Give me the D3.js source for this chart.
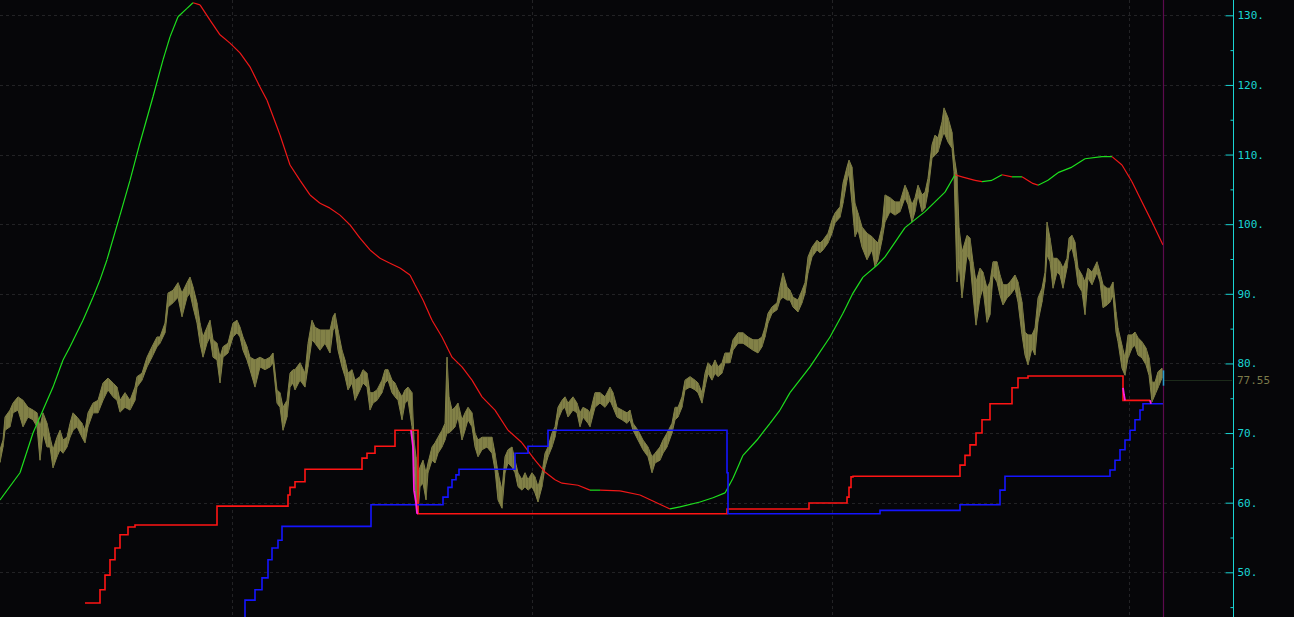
<!DOCTYPE html>
<html><head><meta charset="utf-8">
<script src="https://cdn.jsdelivr.net/npm/d3@7"></script>
<style>html,body{margin:0;padding:0;background:#060609;overflow:hidden}</style>
</head><body><svg id="c" width="1294" height="617"></svg>
<script>
// ---------- data ----------
const priceX = [0,3,5,10,13,18,23,28,33,37,40,43,47,50,53,57,60,63,67,70,73,77,82,85,88,93,98,103,108,113,117,120,125,130,135,137,142,147,152,157,160,165,168,173,178,182,187,190,193,197,200,203,207,210,213,217,220,223,228,233,237,240,243,247,250,255,260,265,270,273,277,280,283,287,290,293,
295,300,305,308,312,315,320,325,330,333,335,338,342,345,348,352,355,360,363,367,370,373,377,382,385,388,392,395,398,402,405,408,412,414,416,418,420,423,426,428,432,435,438,442,445,447,449,452,455,458,462,465,468,472,475,478,482,487,492,495,498,502,505,508,512,515,518,522,525,528,532,535,538,542,545,548,552,555,558,562,565,568,573,577,580,583,588,
590,595,600,605,610,613,617,622,627,630,633,638,643,648,652,655,660,663,667,672,675,678,682,685,690,695,698,702,705,708,712,715,718,722,725,730,733,738,743,748,753,758,762,765,768,772,777,780,783,787,790,793,798,802,805,808,812,817,820,823,828,832,835,840,843,847,849,852,855,858,862,867,872,875,878,882,
885,890,895,900,905,908,912,915,918,922,925,928,932,935,938,942,944,948,952,954,957,959,962,967,970,973,976,980,983,987,990,993,997,1000,1003,1007,1010,1015,1018,1022,1025,1028,1032,1035,1038,1042,1045,1047,1050,1053,1057,1060,1063,1067,1069,1072,1075,1078,1082,1085,1088,1092,1097,1100,1103,1107,1110,1113,1116,1118,1122,1125,1128,1132,1135,1138,1142,1146,1149,1152,1155,1158,1162];
const priceHigh = [67.6,69.0,72.3,73.3,74.3,75.2,74.7,73.7,73.3,72.9,70.9,72.9,71.4,69.4,67.6,69.4,70.4,69.0,69.4,71.4,72.9,72.3,71.4,70.4,72.9,74.3,74.7,77.2,77.9,77.2,76.6,74.7,75.8,74.7,76.6,78.1,78.6,80.9,82.4,83.8,83.8,85.8,90.1,90.5,91.6,90.1,91.6,92.4,91.0,88.7,85.8,83.8,85.2,86.2,83.4,82.9,80.9,82.4,82.9,85.8,86.2,85.2,83.8,82.4,80.9,80.5,80.9,80.5,80.9,81.5,76.2,75.8,73.7,74.7,78.6,79.1,
79.1,80.1,78.6,82.9,86.2,85.2,84.8,84.8,84.8,86.7,87.2,84.8,81.9,80.5,78.6,79.1,77.6,78.1,79.1,78.6,75.8,75.8,76.2,77.6,79.1,79.1,77.6,77.2,76.2,75.2,76.2,76.6,75.8,69.0,66.6,64.3,65.1,66.1,64.3,65.7,68.0,68.6,69.4,70.4,71.4,80.9,75.2,73.3,73.7,74.3,71.9,72.9,73.7,72.9,70.0,69.0,69.4,69.4,69.4,67.1,64.3,61.8,66.6,67.6,68.0,66.1,64.3,63.3,64.3,63.3,64.3,63.7,62.3,64.3,67.1,68.0,70.0,70.9,73.7,74.7,75.2,74.3,75.2,74.3,72.9,73.7,73.3,
72.9,75.8,75.8,75.2,76.6,75.8,73.7,73.3,72.9,73.3,71.4,70.4,69.0,68.0,66.6,67.1,68.0,69.0,70.0,71.4,73.7,73.7,75.2,77.6,78.1,77.6,77.2,75.8,78.6,80.1,79.5,80.5,79.5,80.1,81.5,81.5,83.4,84.4,84.4,83.8,83.4,83.4,83.8,85.2,87.2,88.1,88.7,91.0,93.0,91.0,90.5,89.5,89.1,90.5,91.6,95.3,96.7,97.7,97.3,97.7,98.7,100.6,101.6,102.5,105.9,108.2,109.2,108.2,103.0,101.6,99.6,98.7,98.2,97.7,97.3,99.6,
104.2,103.8,103.2,103.2,105.6,104.6,102.8,103.8,105.6,104.2,104.6,106.6,111.4,112.8,112.4,114.7,116.7,115.3,113.2,109.9,107.1,99.5,96.0,98.4,98.0,94.6,91.7,93.7,93.1,90.8,91.7,94.6,94.6,92.7,91.3,91.3,91.7,92.7,91.7,88.8,84.5,84.1,84.1,85.1,89.4,90.8,93.1,100.3,98.0,95.1,95.1,94.6,93.7,95.1,98.0,98.4,97.4,93.7,92.7,91.7,93.7,93.1,94.6,93.1,91.3,90.8,90.8,91.7,87.4,85.1,82.6,80.8,84.1,84.1,84.5,83.7,83.1,82.2,80.8,77.3,77.3,78.8,79.3];
const priceLow = [65.8,68.0,70.4,70.9,72.9,73.3,70.9,72.3,71.9,70.9,66.1,70.0,68.0,68.0,65.0,66.6,67.6,67.1,68.0,69.4,70.4,70.9,69.4,68.6,70.9,72.9,72.9,74.7,76.2,75.2,74.7,73.0,73.7,73.3,74.7,76.6,77.6,79.5,80.9,82.4,82.9,84.4,88.1,88.7,89.5,86.7,89.5,90.1,88.1,85.8,82.9,80.9,82.9,83.8,80.9,80.5,77.2,80.9,81.5,83.8,84.4,83.8,81.9,80.5,79.1,76.6,79.5,79.1,79.5,80.1,74.3,73.7,70.4,72.3,76.6,77.2,
76.2,77.6,76.6,79.5,83.4,82.9,81.9,82.9,81.5,84.8,85.2,81.9,79.5,78.1,76.2,77.2,74.7,76.2,77.2,76.6,73.3,74.3,74.7,75.8,77.2,77.6,75.8,75.2,74.7,71.9,74.3,74.7,70.9,65.1,60.4,58.5,62.3,62.8,60.4,64.3,66.1,65.7,67.1,68.0,69.0,70.0,70.0,70.4,70.9,72.3,69.0,70.4,71.9,70.9,68.0,66.6,67.6,68.0,67.1,64.7,60.4,59.2,64.3,65.7,65.1,64.3,62.3,61.8,62.3,61.8,62.3,61.4,60.1,62.3,65.1,66.6,68.0,69.4,71.9,73.3,73.7,72.3,73.3,72.9,70.9,72.3,71.4,
70.9,73.7,74.3,73.7,74.7,73.7,72.3,71.9,71.4,71.9,70.4,69.0,67.6,66.6,64.3,65.7,66.1,67.1,68.0,70.0,71.9,72.3,73.7,76.2,76.6,76.2,75.8,74.3,76.6,78.6,77.6,78.6,78.1,78.6,80.1,80.1,81.9,82.9,82.9,82.4,81.9,81.5,82.4,83.8,85.8,87.2,87.7,89.1,89.5,89.1,89.1,88.1,87.4,88.7,90.1,93.0,95.3,96.3,95.9,96.3,97.3,98.7,100.2,101.0,103.0,106.3,107.4,103.0,98.2,99.2,96.7,94.9,96.3,93.9,94.9,97.7,
100.3,101.8,101.3,101.8,103.8,102.8,100.3,101.8,104.2,101.8,102.3,104.6,109.5,109.9,110.4,112.4,113.2,111.8,110.9,107.5,91.7,94.6,89.4,95.6,94.6,89.8,85.5,89.4,90.8,85.9,87.0,92.7,91.7,89.8,88.4,89.4,89.8,90.8,88.8,84.1,81.2,79.8,82.2,81.2,86.0,88.8,91.7,95.6,94.6,90.8,93.1,92.7,90.8,93.7,96.0,96.6,94.6,91.3,90.3,87.0,92.3,91.3,93.1,91.7,88.0,88.4,88.8,89.8,84.5,83.1,79.3,78.3,80.8,82.2,82.6,81.2,80.8,79.8,78.3,74.5,75.5,76.5,77.9];

const maX = [0,20,33,43,53,63,70,83,93,100,107,120,130,140,153,163,170,178,187,193,200,210,220,230,240,250,260,267,280,290,300,310,320,330,340,350,360,370,380,390,400,410,415,423,432,442,452,462,472,482,495,508,522,535,545,555,562,578,590,600,620,640,655,670,680,700,713,725,733,743,757,770,780,790,810,830,843,853,863,877,885,905,925,945,955,962,975,982,992,1002,1012,1022,1032,1038,1048,1058,1072,1085,1102,1112,1122,1132,1142,1152,1163];
const maV = [60.4,64.3,70.0,73.3,76.6,80.5,82.4,86.2,89.5,92.0,94.9,101.3,106.3,111.7,118.3,123.6,126.9,129.8,131.0,131.8,131.5,129.3,127.2,126.0,124.6,122.6,119.7,117.8,112.8,108.5,106.3,104.2,103.0,102.3,101.3,99.9,98.0,96.3,95.1,94.4,93.7,92.7,91.3,89.1,86.2,83.8,80.9,79.5,77.6,75.2,73.3,70.4,68.6,66.1,64.4,63.3,62.8,62.5,61.8,61.8,61.7,61.1,60.1,59.1,59.4,60.1,60.7,61.4,63.5,66.8,69.0,71.4,73.3,75.8,79.5,83.8,87.2,90.1,92.4,94.1,95.3,99.5,101.8,104.6,107.1,106.8,106.3,106.1,106.3,107.1,106.8,106.8,105.9,105.6,106.3,107.4,108.2,109.4,109.7,109.7,108.5,106.1,103.2,100.3,97.0];

const redStopX = [85,100,105,110,115,120,128,135,217,288,290,295,305,362,367,375,395,418,727,809,847,849,851,853,960,965,970,976,982,990,1012,1018,1028,1123,1150];
const redStopV = [45.6,47.5,49.6,51.8,53.5,55.4,56.5,56.8,59.5,61.1,62.2,63.0,64.8,66.4,67.1,68.1,70.4,58.4,59.1,59.95,60.8,62.2,63.7,63.8,65.4,66.8,68.3,70.0,71.9,74.2,76.5,77.9,78.2,74.7,74.7];

const blueStopX = [240,245,255,262,268,272,278,282,371,443,448,452,456,459,515,528,548,727,728,880,960,1000,1005,1110,1115,1120,1125,1130,1135,1140,1143,1163];
const blueStopV = [43.2,46.0,47.5,49.2,51.8,53.5,54.6,56.6,59.7,60.8,62.2,63.3,64.0,64.8,67.1,68.1,70.4,64.3,58.4,58.9,59.7,61.8,63.8,64.7,66.1,67.6,69.0,70.4,71.9,73.3,74.2,74.2];

const magentaX = [[411,413,414,416,417,418],[1123,1124,1125],[1150,1151]];
const magentaV = [[70.4,68.0,61.8,60.0,58.5,58.4],[76.5,75.5,74.7],[74.7,74.2]];

const yTicks = [50,60,70,80,90,100,110,120,130];
const yMinorTicks = [45,55,65,75,85,95,105,115,125];
const vGridBars = [232,532,832,1129];
const lastBar = 1163;
const lastPrice = 77.55;

// ---------- chart ----------
const W = 1294, H = 617, axisX = 1233;
const svg = d3.select('#c');
svg.append('rect').attr('width', W).attr('height', H).attr('fill', '#060609');

const x = d3.scaleLinear().domain([0, 1163]).range([0, 1163]);
const y = d3.scaleLinear().domain([50, 130]).range([572.3, 15.3]);

// grid
const grid = svg.append('g').attr('stroke', '#222225').attr('stroke-dasharray', '3,3').attr('stroke-width', 1);
grid.selectAll('line.h').data(yTicks).join('line')
  .attr('x1', 0).attr('x2', 1225)
  .attr('y1', d => Math.round(y(d)) + 0.5).attr('y2', d => Math.round(y(d)) + 0.5);
grid.selectAll('line.v').data(vGridBars).join('line')
  .attr('x1', d => Math.round(x(d)) + 0.5).attr('x2', d => Math.round(x(d)) + 0.5)
  .attr('y1', 0).attr('y2', H);

// price band
const priceData = priceX.map((b, i) => ({ b, hi: priceHigh[i], lo: priceLow[i] }));
svg.append('path').datum(priceData)
  .attr('d', d3.area().x(d => x(d.b)).y0(d => y(d.lo)).y1(d => y(d.hi)))
  .attr('fill', '#828147').attr('stroke', '#828147').attr('stroke-width', 1);
svg.append('g').selectAll('line').data(priceData).join('line')
  .attr('x1', d => x(d.b) + 0.5).attr('x2', d => x(d.b) + 0.5)
  .attr('y1', d => y(d.hi)).attr('y2', d => y(d.lo))
  .attr('stroke', '#6a693a').attr('stroke-width', 1).attr('opacity', 0.6);

// moving average: green when rising, red when falling
const maG = svg.append('g').attr('fill', 'none').attr('stroke-width', 1.2);
for (let i = 1; i < maX.length; i++) {
  maG.append('line')
    .attr('x1', x(maX[i - 1])).attr('y1', y(maV[i - 1]))
    .attr('x2', x(maX[i])).attr('y2', y(maV[i]))
    .attr('stroke', maV[i] >= maV[i - 1] ? '#1ee01e' : '#f01818');
}

// stop lines
const stepLine = d3.line().x(d => x(d[0])).y(d => y(d[1])).curve(d3.curveStepAfter);
svg.append('path').datum(redStopX.map((b, i) => [b, redStopV[i]]))
  .attr('d', stepLine).attr('fill', 'none').attr('stroke', '#ff1414').attr('stroke-width', 1.6);
svg.append('path').datum(blueStopX.map((b, i) => [b, blueStopV[i]]))
  .attr('d', stepLine).attr('fill', 'none').attr('stroke', '#1414ff').attr('stroke-width', 1.6);

const linLine = d3.line().x(d => x(d[0])).y(d => y(d[1]));
magentaX.forEach((xs, k) => {
  svg.append('path').datum(xs.map((b, i) => [b, magentaV[k][i]]))
    .attr('d', linLine).attr('fill', 'none').attr('stroke', '#ff20e0').attr('stroke-width', 1.8);
});

// last price level line
svg.append('line').attr('x1', x(lastBar)).attr('x2', axisX - 1)
  .attr('y1', Math.round(y(lastPrice)) + 0.5).attr('y2', Math.round(y(lastPrice)) + 0.5)
  .attr('stroke', '#1c2a1a').attr('stroke-width', 1);

// last bar cursor line
svg.append('line').attr('x1', x(lastBar) + 0.5).attr('x2', x(lastBar) + 0.5)
  .attr('y1', 0).attr('y2', H).attr('stroke', '#5c0a4e').attr('stroke-width', 1.2);
svg.append('line').attr('x1', x(lastBar) + 0.5).attr('x2', x(lastBar) + 0.5)
  .attr('y1', y(79.0)).attr('y2', y(76.8)).attr('stroke', '#2aa0d0').attr('stroke-width', 1.5);

// axis
svg.append('line').attr('x1', axisX + 0.5).attr('x2', axisX + 0.5).attr('y1', 0).attr('y2', H)
  .attr('stroke', '#1ad4d4').attr('stroke-width', 1);
const axMajor = svg.append('g').attr('transform', `translate(${axisX + 0.5},0)`)
  .call(d3.axisRight(y).tickValues(yTicks).tickSizeInner(-8).tickSizeOuter(0).tickPadding(4).tickFormat(d => d + '.'));
const axMinor = svg.append('g').attr('transform', `translate(${axisX + 0.5},0)`)
  .call(d3.axisRight(y).tickValues(yMinorTicks).tickSizeInner(-3).tickSizeOuter(0).tickFormat(''));
[axMajor, axMinor].forEach(g => {
  g.select('.domain').remove();
  g.selectAll('line').attr('stroke', '#1ad4d4');
});
axMajor.selectAll('text').attr('fill', '#1ad4d4')
  .attr('font-family', 'DejaVu Sans Mono, monospace').attr('font-size', 11);

svg.append('text').attr('x', axisX + 4).attr('y', y(lastPrice)).attr('dy', '0.35em')
  .attr('fill', '#7c7b4a').attr('font-family', 'DejaVu Sans Mono, monospace').attr('font-size', 11)
  .text(lastPrice.toFixed(2));
</script></body></html>
